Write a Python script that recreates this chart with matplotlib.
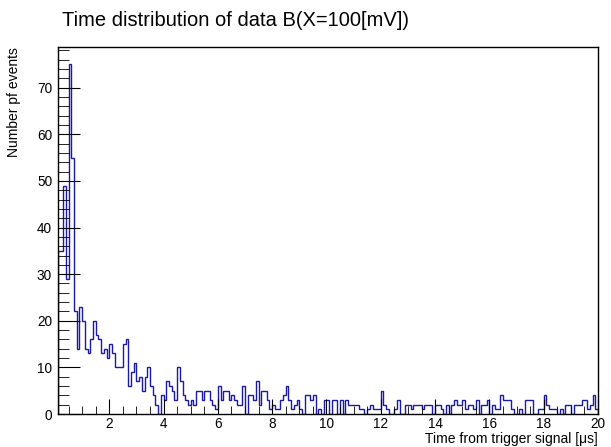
import numpy as np
import matplotlib
matplotlib.use("Agg")
import matplotlib.pyplot as plt
from matplotlib.ticker import MultipleLocator

# histogram: 0.1 us bins from 0.1 to 20 us
bin_lo = 0.1
bin_hi = 20.0
counts = [
    35, 35, 49, 29, 75, 55, 22, 14, 23,          # 0.1 - 1.0
    20, 14, 13, 16, 20, 17, 16, 13, 14, 12,      # 1 - 2
    15, 13, 10, 10, 10, 15, 16, 6, 9, 11,        # 2 - 3
    7, 8, 5, 8, 10, 6, 4, 2, 0, 4,               # 3 - 4
    3, 7, 6, 5, 3, 10, 7, 4, 3, 2,               # 4 - 5
    3, 2, 5, 5, 3, 5, 5, 3, 2, 1,                # 5 - 6
    6, 3, 5, 5, 3, 4, 3, 2, 2, 6,                # 6 - 7
    0, 4, 4, 3, 7, 2, 5, 5, 3, 1,                # 7 - 8
    2, 1, 1, 3, 4, 6, 3, 1, 2, 3,                # 8 - 9
    1, 0, 4, 4, 3, 4, 0, 1, 0, 3,                # 9 - 10
    3, 0, 3, 3, 0, 3, 0, 3, 2, 2,                # 10 - 11
    2, 2, 1, 1, 0, 1, 2, 1, 1, 1,                # 11 - 12
    5, 2, 1, 0, 0, 1, 3, 0, 0, 2,                # 12 - 13
    2, 1, 2, 2, 2, 1, 2, 2, 2, 0,                # 13 - 14
    2, 2, 1, 0, 2, 0, 2, 3, 2, 2,                # 14 - 15
    3, 1, 2, 2, 1, 3, 0, 2, 2, 3,                # 15 - 16
    0, 2, 1, 1, 4, 3, 3, 3, 1, 0,                # 16 - 17
    0, 1, 0, 3, 3, 3, 0, 0, 1, 1,                # 17 - 18
    4, 2, 1, 1, 1, 0, 1, 0, 2, 2,                # 18 - 19
    0, 2, 2, 2, 3, 3, 1, 2, 4, 1,                # 19 - 20
]
title = "Time distribution of data B(X=100[mV])"
xlabel = "Time from trigger signal [\u03bcs]"
ylabel = "Number pf events"

plt.rcParams['font.family'] = ['Liberation Sans', 'DejaVu Sans']

edges = np.linspace(bin_lo, bin_hi, len(counts) + 1)

fig = plt.figure(figsize=(6.11, 4.47), dpi=100)
ax = fig.add_axes([0.0944, 0.0738, 0.8843, 0.8212])
ax.stairs(counts, edges, color='#1a1aa6', lw=1.0, baseline=0)

ax.set_xlim(bin_lo, bin_hi)
ax.set_ylim(0, 1.05 * max(counts))
ax.xaxis.set_major_locator(MultipleLocator(2))
ax.xaxis.set_minor_locator(MultipleLocator(0.5))
ax.yaxis.set_major_locator(MultipleLocator(10))
ax.yaxis.set_minor_locator(MultipleLocator(2))
ax.tick_params(which='both', direction='in', top=False, right=False, labelsize=9.8)
ax.tick_params(axis='x', which='major', length=11, pad=2)
ax.tick_params(axis='x', which='minor', length=5.5)
ax.tick_params(axis='y', which='major', length=16, pad=4)
ax.tick_params(axis='y', which='minor', length=8)
for s in ax.spines.values():
    s.set_linewidth(1.0)

fig.text(62 / 611, 1 - 20 / 447, title, fontsize=14.5, ha='left', va='center')
ax.set_xlabel(xlabel, fontsize=10, ha='right', x=1.0)
ax.xaxis.set_label_coords(1.0, -0.048)
ax.set_ylabel(ylabel, fontsize=10, ha='right', y=1.0)
ax.yaxis.set_label_coords(-0.068, 1.0)

plt.savefig('out.png', dpi=100)
